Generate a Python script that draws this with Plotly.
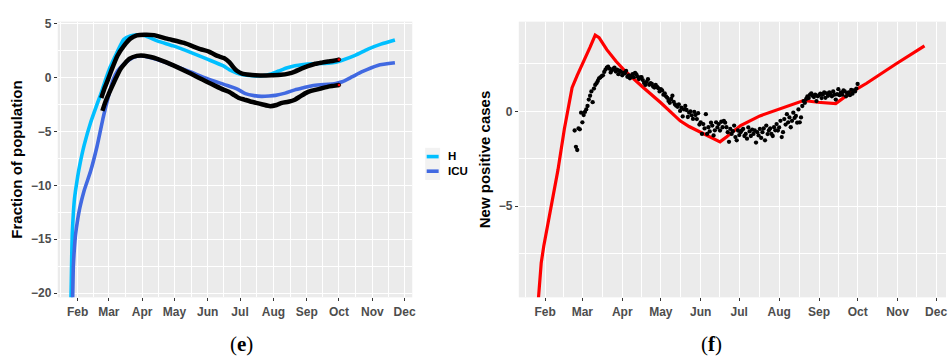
import plotly.graph_objects as go
import pandas as pd

BASE = pd.Timestamp("2020-02-01")

# ---------------- data ----------------
month_labels = ["Feb", "Mar", "Apr", "May", "Jun", "Jul", "Aug", "Sep", "Oct", "Nov", "Dec"]
legend_labels = ["H", "ICU"]

# Panel (e): model curves (days since 2020-02-01, value)
h_model_day = [-7, -6, -5.5, -5, -4, -3, -2, 0, 2, 6, 12, 18, 22, 26, 30, 36, 43, 49, 55, 62, 74, 89, 105,
               120, 136, 141, 148, 155, 165, 172, 180, 187, 195, 202, 210, 218, 226, 233, 240, 246, 258,
               270, 282, 295]
h_model_val = [-24.0, -19.6, -16.6, -14.5, -12.6, -11.3, -10.5, -9.2, -8.1, -6.3, -4.2, -2.5, -1.4, -0.2,
               0.9, 2.2, 3.55, 3.85, 3.95, 3.9, 3.39, 2.93, 2.33, 1.72, 1.05, 0.72, 0.42, 0.24, 0.15, 0.16,
               0.33, 0.6, 0.9, 1.08, 1.2, 1.27, 1.3, 1.33, 1.42, 1.6, 2.05, 2.63, 3.09, 3.48]

icu_model_day = [-5.5, -4.6, -4, -3, -2, 0, 2, 6, 12, 18, 24, 29, 33, 37, 43, 52, 60, 74, 89, 105, 120,
                 136, 148, 156, 164, 171, 178, 184, 193, 202, 210, 218, 226, 233, 240, 246, 255, 264, 279,
                 295]
icu_model_val = [-23.0, -20.2, -17.5, -15.8, -14.6, -13.2, -12.1, -10.5, -8.7, -6.4, -3.6, -1.6, -0.2, 0.6,
                 1.25, 1.88, 2.0, 1.66, 1.12, 0.51, -0.09, -0.64, -1.05, -1.5, -1.68, -1.75, -1.72, -1.66,
                 -1.45, -1.15, -0.95, -0.76, -0.68, -0.64, -0.55, -0.39, 0.05, 0.51, 1.12, 1.36]

# Panel (e): observed data
h_obs_day = [22, 25, 28, 32, 37, 43, 49, 55, 62, 71, 83, 99, 114, 122, 130, 136, 141, 144, 148, 153, 160,
             165, 173, 181, 189, 196, 202, 208, 214, 221, 227, 233, 238, 243]
h_obs_val = [-1.9, -1.0, -0.24, 0.82, 2.02, 2.93, 3.6, 3.9, 3.97, 3.93, 3.6, 3.2, 2.63, 2.4, 2.0, 1.8, 1.42,
             1.05, 0.62, 0.36, 0.25, 0.21, 0.18, 0.21, 0.25, 0.36, 0.55, 0.82, 1.05, 1.27, 1.38, 1.48, 1.55,
             1.66]

icu_obs_day = [23, 26, 29, 34, 40, 48, 55, 62, 68, 74, 82, 89, 97, 105, 112, 120, 128, 136, 141, 145, 150,
               155, 160, 166, 172, 179, 185, 190, 196, 202, 207, 212, 217, 221, 227, 233, 238, 243]
icu_obs_val = [-3.1, -2.2, -1.5, -0.39, 0.82, 1.72, 2.0, 2.02, 1.9, 1.72, 1.42, 1.12, 0.75, 0.36, 0.0,
               -0.39, -0.78, -1.15, -1.35, -1.6, -1.9, -2.05, -2.2, -2.35, -2.5, -2.66, -2.55, -2.36, -2.25,
               -2.06, -1.75, -1.45, -1.25, -1.15, -1.0, -0.85, -0.78, -0.7]

# Panel (f): model (red) line
cases_model_day = [-6, -5, -4, -3, -1, 5, 10, 15, 19, 21, 25, 30, 35, 39, 42, 48, 55, 62, 70, 77, 90, 98,
                   105, 112, 121, 136, 141, 147, 152, 167, 183, 198, 201, 212, 226, 237, 250, 273, 295]
cases_model_val = [-10.6, -9.8, -8.7, -8.0, -7.1, -4.9, -3.1, -0.93, 0.62, 1.25, 1.9, 2.6, 3.38, 4.02, 3.89,
                   3.25, 2.65, 2.14, 1.62, 1.22, 0.45, -0.05, -0.5, -0.8, -1.1, -1.61, -1.35, -1.01, -0.75,
                   -0.24, 0.14, 0.54, 0.57, 0.48, 0.41, 0.96, 1.48, 2.51, 3.45]

# Panel (f): observed daily new positive cases, from day 23 (2020-02-24) to day 243 (2020-10-01)
cases_obs_first_day = 23
cases_obs_val = [
    -1.01, -1.87, -2.04, -0.90, -0.95, -0.07, -0.58, -0.20, -0.03, 0.10,
    0.28, 0.62, 0.82, 1.05, 0.48, 1.20, 1.39, 1.48, 1.60, 1.74,
    1.79, 1.86, 1.90, 2.08, 2.20, 2.30, 2.35, 2.25, 2.05, 2.16,
    2.25, 2.30, 2.10, 2.20, 1.96, 2.15, 2.08, 1.90, 2.03, 2.00,
    2.13, 1.82, 1.90, 1.74, 1.85, 1.96, 1.80, 2.03, 1.95, 1.82,
    1.70, 1.79, 1.80, 1.65, 1.50, 1.39, 1.55, 1.69, 1.40, 1.48,
    1.45, 1.31, 1.25, 1.39, 1.30, 1.22, 1.05, 1.17, 1.10, 0.88,
    0.95, 0.79, 0.71, 0.55, 0.45, 0.65, 0.82, 0.50, 0.36, 0.30,
    0.24, 0.36, 0.02, 0.19, -0.27, 0.10, 0.28, 0.07, -0.30, -0.07,
    0.00, -0.21, -0.40, -0.03, -0.20, -0.41, -0.10, -0.70, -0.58, -1.19,
    -0.67, -0.90, -0.15, -1.19, -0.84, -1.06, -0.60, -0.75, -1.27, -1.00,
    -0.58, -0.85, -0.67, -1.01, -0.55, -0.84, -0.50, -0.60, -0.84, -1.10,
    -1.61, -0.93, -1.19, -1.05, -0.75, -1.36, -1.53, -1.01, -1.25, -1.10,
    -1.00, -0.93, -1.30, -1.19, -1.44, -0.85, -1.06, -1.30, -0.96, -1.19,
    -1.00, -1.65, -1.10, -1.27, -0.93, -1.40, -1.10, -0.90, -1.53, -0.75,
    -1.20, -1.01, -0.90, -1.19, -1.30, -0.84, -1.00, -0.67, -1.01, -0.85,
    -0.50, -1.36, -1.10, -0.41, -0.70, -0.15, -0.58, -0.32, -0.84, -0.50,
    -0.07, -0.35, -0.24, -0.60, 0.10, -0.58, -0.32, 0.28, 0.54, 0.45,
    0.65, 0.79, 0.70, 0.88, 0.95, 0.82, 0.75, 0.88, 0.54, 0.79,
    0.85, 0.93, 0.70, 0.88, 1.00, 0.71, 0.95, 0.82, 1.00, 0.90,
    0.79, 1.05, 0.88, 0.62, 0.90, 1.17, 0.85, 1.00, 0.88, 1.10,
    1.05, 0.79, 0.95, 1.00, 0.85, 1.13, 0.93, 1.10, 1.05, 1.20,
    1.44,
]

# ---------------- helpers ----------------
def to_dates(days):
    return [BASE + pd.Timedelta(days=float(d)) for d in days]

cases_obs_day = list(range(cases_obs_first_day, cases_obs_first_day + len(cases_obs_val)))

month_starts = list(pd.date_range("2020-02-01", periods=len(month_labels), freq="MS"))
edges = [pd.Timestamp("2020-01-01")] + month_starts + [pd.Timestamp("2021-01-01")]
minor_x = [edges[i] + (edges[i + 1] - edges[i]) / 2 for i in range(len(edges) - 1)]

W, H = 950, 361
def px(x):
    return x / W
def py(y):
    return 1 - y / H

SANS = "Liberation Sans, Arial, sans-serif"
BG = "#EBEBEB"
TICKFONT = dict(family=SANS, size=12, color="#4D4D4D", weight="bold")
TITLEFONT = dict(family=SANS, size=15, color="black", weight="bold")
C_H = "#00BFFF"
C_ICU = "#4169E1"

fig = go.Figure()

# Panel (e)
fig.add_trace(go.Scatter(x=to_dates(h_model_day), y=h_model_val, mode="lines", name="H",
                         line=dict(color=C_H, width=3.6, shape="spline", smoothing=0.6),
                         xaxis="x", yaxis="y", showlegend=False))
fig.add_trace(go.Scatter(x=to_dates(icu_model_day), y=icu_model_val, mode="lines", name="ICU",
                         line=dict(color=C_ICU, width=3.6, shape="spline", smoothing=0.6),
                         xaxis="x", yaxis="y", showlegend=False))
fig.add_trace(go.Scatter(x=to_dates(h_obs_day), y=h_obs_val, mode="lines", name="H data",
                         line=dict(color="black", width=4.5, shape="spline", smoothing=0.5),
                         xaxis="x", yaxis="y", showlegend=False))
fig.add_trace(go.Scatter(x=to_dates(icu_obs_day), y=icu_obs_val, mode="lines", name="ICU data",
                         line=dict(color="black", width=4.5, shape="spline", smoothing=0.5),
                         xaxis="x", yaxis="y", showlegend=False))
fig.add_trace(go.Scatter(x=to_dates([h_obs_day[-1], icu_obs_day[-1]]), y=[h_obs_val[-1], icu_obs_val[-1]],
                         mode="markers", marker=dict(color="red", size=3.5, line=dict(color="black", width=0.8)),
                         xaxis="x", yaxis="y", showlegend=False, hoverinfo="skip"))

# Panel (f)
fig.add_trace(go.Scatter(x=to_dates(cases_model_day), y=cases_model_val, mode="lines", name="model",
                         line=dict(color="#FF0000", width=3.2),
                         xaxis="x2", yaxis="y2", showlegend=False))
fig.add_trace(go.Scatter(x=to_dates(cases_obs_day), y=cases_obs_val, mode="markers", name="data",
                         marker=dict(color="black", size=4.3),
                         xaxis="x2", yaxis="y2", showlegend=False))

def xaxis_common(domain, rng, anchor):
    return dict(domain=domain, anchor=anchor, type="date", range=rng,
                tickmode="array", tickvals=month_starts, ticktext=month_labels,
                ticks="outside", ticklen=3, tickwidth=1, tickcolor="#333333",
                tickfont=TICKFONT, showgrid=True, gridcolor="white", gridwidth=1.1,
                minor=dict(tickmode="array", tickvals=minor_x, showgrid=True,
                           gridcolor="white", gridwidth=0.5, ticks=""),
                zeroline=False, showline=False)

def yaxis_common(domain, rng, anchor, tv, mv, title):
    return dict(domain=domain, anchor=anchor, range=rng, tickmode="array", tickvals=tv,
                ticks="outside", ticklen=3, tickwidth=1, tickcolor="#333333",
                tickfont=TICKFONT, showgrid=True, gridcolor="white", gridwidth=1.1,
                minor=dict(tickmode="array", tickvals=mv, showgrid=True,
                           gridcolor="white", gridwidth=0.5, ticks=""),
                zeroline=False, showline=False,
                title=dict(text=title, font=TITLEFONT, standoff=4))

ydom = [py(299), py(17)]
fig.update_layout(
    width=W, height=H, margin=dict(l=0, r=0, t=0, b=0),
    paper_bgcolor="white", plot_bgcolor=BG,
    xaxis=xaxis_common([px(58), px(414)], ["2020-01-13 12:00", "2020-12-08 03:00"], "y"),
    yaxis=yaxis_common(ydom, [-20.39, 5.18], "x", [-20, -15, -10, -5, 0, 5],
                       [-17.5, -12.5, -7.5, -2.5, 2.5], "Fraction of population"),
    xaxis2=xaxis_common([px(521), 1.0], ["2020-01-11 14:00", "2020-12-08 17:00"], "y2"),
    yaxis2=yaxis_common(ydom, [-9.81, 4.73], "x2", [-5, 0],
                        [-7.5, -2.5, 2.5], "New positive cases"),
    showlegend=False,
)

# Legend (H / ICU) beside panel (e): one two-line text block with colour keys
LEG_FS = 11.5
LEG_LINE = LEG_FS * 1.3
LEG_CY = 162.5
fig.add_shape(type="rect", xref="paper", yref="paper", x0=px(427), x1=px(442),
              y0=py(LEG_CY + LEG_LINE + 1.5), y1=py(LEG_CY - LEG_LINE - 1.5),
              fillcolor="#F2F2F2", line=dict(width=0), layer="below")
for i, color in enumerate([C_H, C_ICU]):
    yy = LEG_CY + (i - 0.5) * LEG_LINE
    fig.add_shape(type="line", xref="paper", yref="paper", x0=px(428.5), x1=px(440.5), y0=py(yy), y1=py(yy),
                  line=dict(color=color, width=3.6))
fig.add_annotation(text="<br>".join(legend_labels), xref="paper", yref="paper", x=px(448), y=py(LEG_CY),
                   xanchor="left", yanchor="middle", align="left", showarrow=False,
                   font=dict(family=SANS, size=LEG_FS, color="black", weight="bold"))

# Panel labels
for label, xx in [("(<b>e</b>)", 243), ("(<b>f</b>)", 715)]:
    fig.add_annotation(text=label, xref="paper", yref="paper", x=px(xx), y=py(347), xanchor="center",
                       yanchor="middle", showarrow=False,
                       font=dict(family="Liberation Serif, DejaVu Serif, serif", size=21, color="black"))

fig.write_html("out.html")
